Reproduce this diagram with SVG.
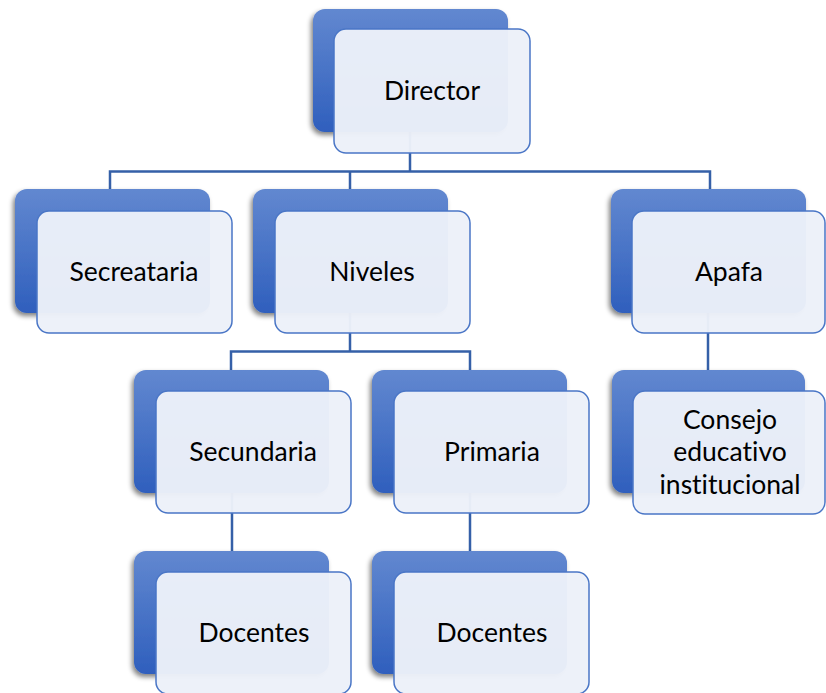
<svg xmlns="http://www.w3.org/2000/svg" width="826" height="693" viewBox="0 0 826 693">
<defs>
<linearGradient id="g" x1="0" y1="0" x2="0" y2="1">
<stop offset="0" stop-color="#6288d0"/>
<stop offset="1" stop-color="#2f5fbd"/>
</linearGradient>
<filter id="sh" x="-20%" y="-20%" width="140%" height="140%">
<feGaussianBlur in="SourceAlpha" stdDeviation="2.5"/>
<feOffset dx="-2" dy="3"/>
<feComponentTransfer><feFuncA type="linear" slope="0.5"/></feComponentTransfer>
<feMerge><feMergeNode/><feMergeNode in="SourceGraphic"/></feMerge>
</filter>
</defs>
<style>
.bk{fill:url(#g);filter:url(#sh)}
.fr{fill:#ecf1f9;fill-opacity:0.97;stroke:#4a76c6;stroke-width:1.5}
.t{font-family:Lato,"Open Sans","Liberation Sans",sans-serif;font-size:26.5px;fill:#000;text-anchor:middle;font-variant-ligatures:none;font-feature-settings:"liga" 0,"clig" 0}
.c{fill:none;stroke:#3560a8;stroke-width:2.5}
</style>
<rect width="826" height="693" fill="#fff"/>
<g id="connectors">
<path class="c" d="M410 132V171.5M110 190V171.5H710V190M350 171.5V190"/>
<path class="c" d="M350 313V351.5M231 370V351.5H470V370"/>
<path class="c" d="M708 313V370"/>
<path class="c" d="M232 493V551M470 493V551"/>
</g>
<g id="director">
<rect class="bk" x="313" y="9" width="195" height="123" rx="12"/>
<rect class="fr" x="334" y="29" width="196" height="124" rx="12"/>
<text class="t" x="432" y="100">Director</text>
</g>
<g id="secretaria">
<rect class="bk" x="15" y="189" width="195" height="124" rx="12"/>
<rect class="fr" x="37" y="211" width="195" height="122" rx="12"/>
<text class="t" x="134" y="281">Secreataria</text>
</g>
<g id="niveles">
<rect class="bk" x="253" y="189" width="195" height="124" rx="12"/>
<rect class="fr" x="275" y="211" width="195" height="122" rx="12"/>
<text class="t" x="372" y="281">Niveles</text>
</g>
<g id="apafa">
<rect class="bk" x="611" y="189" width="195" height="124" rx="12"/>
<rect class="fr" x="632" y="211" width="193" height="122" rx="12"/>
<text class="t" x="729" y="281">Apafa</text>
</g>
<g id="secundaria">
<rect class="bk" x="134" y="370" width="195" height="123" rx="12"/>
<rect class="fr" x="156" y="391" width="195" height="122" rx="12"/>
<text class="t" x="253" y="461">Secundaria</text>
</g>
<g id="primaria">
<rect class="bk" x="372" y="370" width="195" height="123" rx="12"/>
<rect class="fr" x="394" y="391" width="195" height="122" rx="12"/>
<text class="t" x="492" y="461">Primaria</text>
</g>
<g id="consejo">
<rect class="bk" x="612" y="370" width="193" height="123" rx="12"/>
<rect class="fr" x="633" y="391" width="192" height="123" rx="12"/>
<text class="t" x="730" y="429">Consejo</text>
<text class="t" x="730" y="461">educativo</text>
<text class="t" x="730" y="494">institucional</text>
</g>
<g id="docentes1">
<rect class="bk" x="134" y="551" width="195" height="123" rx="12"/>
<rect class="fr" x="156" y="572" width="195" height="122" rx="12"/>
<text class="t" x="254" y="642">Docentes</text>
</g>
<g id="docentes2">
<rect class="bk" x="372" y="551" width="195" height="123" rx="12"/>
<rect class="fr" x="394" y="572" width="195" height="122" rx="12"/>
<text class="t" x="492" y="642">Docentes</text>
</g>
</svg>
